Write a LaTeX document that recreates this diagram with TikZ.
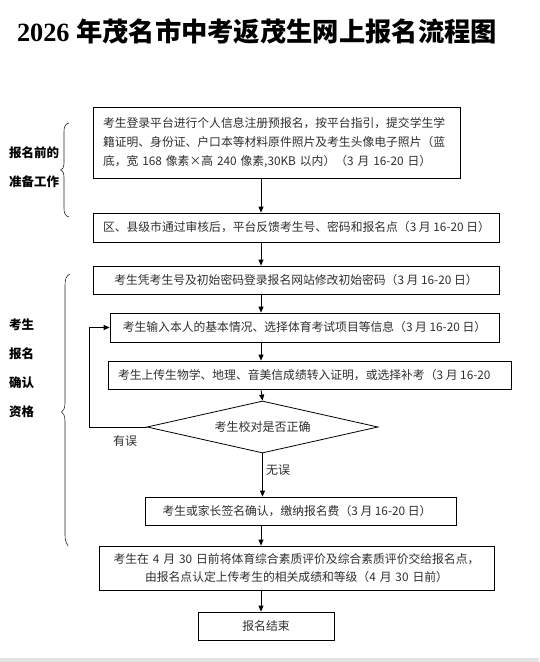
\documentclass[tikz,border=0pt]{standalone}
\usepackage{fontspec}
\newfontfamily\cjk{Noto Sans CJK SC}
\newfontfamily\titlelatin{Liberation Serif}
\usetikzlibrary{arrows.meta,shapes.geometric}
\begin{document}
\begin{tikzpicture}[x=1pt,y=-1pt,
  box/.style={draw, line width=0.8pt, font=\cjk\fontsize{11.8}{19}\selectfont, text=black!82, inner xsep=10pt, inner ysep=0pt},
  side/.style={font=\cjk\bfseries\fontsize{12.5}{14}\selectfont, anchor=west, inner sep=0pt},
  lbl/.style={font=\cjk\fontsize{12}{14}\selectfont, text=black!82, inner sep=0pt},
  arr/.style={-{Triangle[length=6pt,width=5pt]}, line width=0.8pt},
  brc/.style={line width=0.6pt, black!85}]
\useasboundingbox (0,0) rectangle (539,662);
\fill[gray!22] (0,658) rectangle (539,662);

% title
\node[inner sep=0pt] (title) at (257,31) {\titlelatin\bfseries\fontsize{26.3}{28}\selectfont 2026 \cjk\bfseries 年茂名市中考返茂生网上报名流程图};

% boxes
\node[box, minimum width=367pt, minimum height=71pt, text width=347pt, align=left] (b1) at (276.5,142.5)
  {考生登录平台进行个人信息注册预报名，按平台指引，提交学生学\\籍证明、身份证、户口本等材料原件照片及考生头像电子照片（蓝\\底，宽 168 像素×高 240 像素,30KB 以内）（3 月 16-20 日）};
\node[box, minimum width=406pt, minimum height=29pt] (b2) at (296,227.5)
  {\makebox[386pt][l]{区、县级市通过审核后，平台反馈考生号、密码和报名点（3 月 16-20 日）}};
\node[box, minimum width=406pt, minimum height=28pt] (b3) at (296,280)
  {考生凭考生号及初始密码登录报名网站修改初始密码（3 月 16-20 日）};
\node[box, minimum width=389pt, minimum height=29pt] (b4) at (304.5,327.5)
  {考生输入本人的基本情况、选择体育考试项目等信息（3 月 16-20 日）};
\node[box, minimum width=399pt, minimum height=28pt] (b5) at (309.5,375)
  {\makebox[383pt][l]{考生上传生物学、地理、音美信成绩转入证明，或选择补考（3 月 16-20}};
\node[draw, line width=0.8pt, diamond, aspect=4.44, minimum width=231pt, minimum height=52pt, inner sep=0pt,
  font=\cjk\fontsize{12}{14}\selectfont, text=black!82] (d) at (262.5,427) {考生校对是否正确};
\node[box, minimum width=311pt, minimum height=28pt] (b6) at (300.5,511)
  {\makebox[291pt][c]{考生或家长签名确认，缴纳报名费（3 月 16-20 日）\hspace{7pt}}};
\node[box, minimum width=395pt, minimum height=44pt, text width=375pt, align=center, font=\cjk\fontsize{11.8}{18}\selectfont] (b7) at (296.5,568)
  {考生在 4 月 30 日前将体育综合素质评价及综合素质评价交给报名点，\\由报名点认定上传考生的相关成绩和等级（4 月 30 日前）};
\node[box, minimum width=136pt, minimum height=28pt] (b8) at (266,626) {报名结束};

% side labels
\node[side] (s1) at (9,153) {报名前的};
\node[side] (s2) at (9,182) {准备工作};
\node[side] (s3) at (9,325) {考生};
\node[side] (s4) at (9,354) {报名};
\node[side] (s5) at (9,383) {确认};
\node[side] (s6) at (9,412) {资格};

% connectors
\coordinate (sp) at (261,0);
\coordinate (lp) at (89,0);
\draw[arr] (b1.south -| sp) -- (b2.north -| sp);
\draw[arr] (b2.south -| sp) -- (b3.north -| sp);
\draw[arr] (b3.south -| sp) -- (b4.north -| sp);
\draw[arr] (b4.south -| sp) -- (b5.north -| sp);
\draw[arr] (b5.south -| sp) -- (d.north);
\draw[arr] (d.south) -- (b6.north -| d.south);
\draw[arr] (b6.south -| sp) -- (b7.north -| sp);
\draw[arr] (b7.south -| sp) -- (b8.north -| sp);
\draw[arr] (d.west) -- (d.west -| lp) |- (b4.west);
\node[lbl] (yw) at (125,441) {有误};
\node[lbl] (ww) at (278,470) {无误};

% braces
\draw[brc] (69,123) .. controls (65,124) and (64,127) .. (64,132) -- (64,163)
  .. controls (64,168) and (62,170) .. (60.5,170) .. controls (62,170) and (64,172) .. (64,177)
  -- (64,208) .. controls (64,213) and (65,216) .. (69,217);
\draw[brc] (70,274) .. controls (66,276) and (65,279) .. (65,286) -- (65,403)
  .. controls (65,409) and (63,411) .. (61.5,412) .. controls (63,413) and (65,415) .. (65,421)
  -- (65,535) .. controls (65,540) and (66,543) .. (68,546);
\end{tikzpicture}
\end{document}
